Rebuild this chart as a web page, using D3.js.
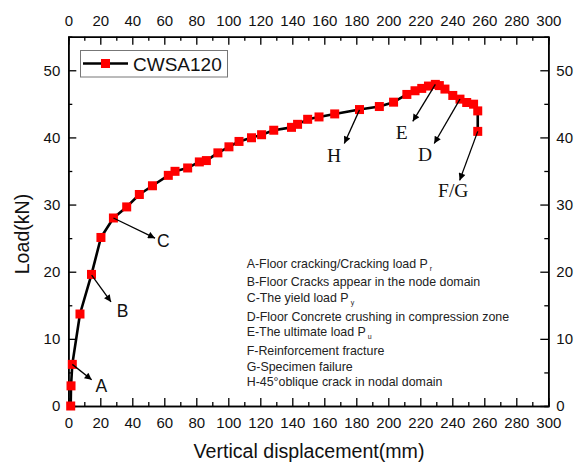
<!DOCTYPE html>
<html><head><meta charset="utf-8">
<script src="https://cdn.jsdelivr.net/npm/d3@7"></script>
<style>body{margin:0;background:#fff}svg{display:block}</style>
</head><body><svg id="c" width="581" height="465"></svg>
<script>
// ---- data ----
const seriesName = "CWSA120";
const displacement = [1.5,1.7,2.5,7.3,14.5,20.4,28.2,36.5,44.4,52.6,62.5,66.7,74.6,81.9,86.3,93.5,100.4,106.7,114.5,120.8,128.4,139.5,143.3,149.6,156.7,166.5,182.0,194.4,203.3,211.6,216.7,220.9,225.1,229.4,231.9,235.4,240.3,244.8,249.0,253.3,255.9,255.9];
const load =         [0.0,3.0,6.2,13.7,19.6,25.1,28.0,29.65,31.5,32.8,34.35,34.95,35.45,36.35,36.55,37.7,38.6,39.4,39.95,40.4,41.07,41.5,41.95,42.7,43.05,43.5,44.15,44.6,45.25,46.4,46.95,47.3,47.65,47.9,47.72,47.2,46.25,45.7,45.2,44.95,43.95,40.9];
const xTickValues = d3.range(0, 301, 20);
const xMinorValues = d3.range(10, 300, 20);
const yTickValues = [0, 10, 20, 30, 40, 50];
const yMinorValues = [5, 15, 25, 35, 45];
const xDomain = [0, 300];
const yDomain = [0, 55];
// annotation arrows (data units): from point -> arrow tip, label position
const annLabels = ["A", "B", "C", "H", "E", "D", "F/G"];
const annSerif  = [false, false, false, true, true, true, true];
const annFromX = [2.5, 14.6, 28.2, 182.0, 229.4, 244.8, 255.9];
const annFromY = [6.2, 19.5, 28.0, 44.1, 47.9, 45.7, 40.9];
const annToX   = [14.6, 26.7, 54.2, 172.5, 215.3, 228.7, 244.6];
const annToY   = [3.9, 15.5, 25.0, 39.1, 42.4, 39.1, 33.6];
const annLabX  = [20.6, 33.9, 59.4, 166.1, 208.4, 222.9, 240.6];
const annLabY  = [2.1, 13.2, 23.7, 36.4, 39.7, 36.5, 31.2];
// explanatory notes: text + subscript
const noteText = ["A-Floor cracking/Cracking load P", "B-Floor Cracks appear in the node domain", "C-The yield load P",
  "D-Floor Concrete crushing in compression zone", "E-The ultimate load P", "F-Reinforcement fracture",
  "G-Specimen failure", "H-45°oblique crack in nodal domain"];
const noteSub = ["r", "", "y", "", "u", "", "", ""];
const noteX = 111.5;
const noteY = [20.6, 17.8, 15.5, 12.7, 10.4, 7.6, 5.2, 3.0];

// ---- chart ----
const svg = d3.select("#c");
const W = 581, H = 465;
const L = 68.3, R = 548.3, T = 36.7, B = 406;
const sans = "'Liberation Sans', Arial, sans-serif";
const serif = "'Liberation Serif', 'Times New Roman', serif";
svg.append("rect").attr("width", W).attr("height", H).attr("fill", "#fff");

const x = d3.scaleLinear().domain(xDomain).range([L, R]);
const y = d3.scaleLinear().domain(yDomain).range([B, T]);

function styleAxis(g) {
  g.selectAll("path.domain").attr("stroke", "#000").attr("stroke-width", 1.6);
  g.selectAll(".tick line").attr("stroke", "#000").attr("stroke-width", 1.3);
  g.selectAll("text").attr("font-family", sans).attr("font-size", 15).attr("fill", "#111");
}
// major axes
svg.append("g").attr("transform", `translate(0,${B})`)
  .call(d3.axisBottom(x).tickValues(xTickValues).tickSizeInner(-8).tickSizeOuter(0).tickPadding(11).tickFormat(d3.format("d"))).call(styleAxis);
svg.append("g").attr("transform", `translate(0,${T})`)
  .call(d3.axisTop(x).tickValues(xTickValues).tickSizeInner(-8).tickSizeOuter(0).tickPadding(11).tickFormat(d3.format("d"))).call(styleAxis);
svg.append("g").attr("transform", `translate(${L},0)`)
  .call(d3.axisLeft(y).tickValues(yTickValues).tickSizeInner(-8).tickSizeOuter(0).tickPadding(8).tickFormat(d3.format("d"))).call(styleAxis);
svg.append("g").attr("transform", `translate(${R},0)`)
  .call(d3.axisRight(y).tickValues(yTickValues).tickSizeInner(-8).tickSizeOuter(0).tickPadding(8).tickFormat(d3.format("d"))).call(styleAxis);
// minor ticks
svg.append("g").attr("transform", `translate(0,${B})`)
  .call(d3.axisBottom(x).tickValues(xMinorValues).tickSize(-4).tickFormat("")).call(styleAxis);
svg.append("g").attr("transform", `translate(0,${T})`)
  .call(d3.axisTop(x).tickValues(xMinorValues).tickSize(-4).tickFormat("")).call(styleAxis);
svg.append("g").attr("transform", `translate(${L},0)`)
  .call(d3.axisLeft(y).tickValues(yMinorValues).tickSize(-4).tickFormat("")).call(styleAxis);
svg.append("g").attr("transform", `translate(${R},0)`)
  .call(d3.axisRight(y).tickValues(yMinorValues).tickSize(-4).tickFormat("")).call(styleAxis);

// axis titles
svg.append("text").attr("x", 309).attr("y", 458).attr("text-anchor", "middle")
  .attr("font-family", sans).attr("font-size", 19.6).attr("fill", "#111").text("Vertical displacement(mm)");
svg.append("text").attr("transform", "translate(29,234) rotate(-90)").attr("text-anchor", "middle")
  .attr("font-family", sans).attr("font-size", 19.6).attr("fill", "#111").text("Load(kN)");

// series
const pts = displacement.map((d, i) => [d, load[i]]);
svg.append("path").datum(pts)
  .attr("d", d3.line().x(d => x(d[0])).y(d => y(d[1])))
  .attr("fill", "none").attr("stroke", "#000").attr("stroke-width", 2.6).attr("stroke-linejoin", "round");
const ms = 9;
svg.append("g").selectAll("rect").data(pts).join("rect")
  .attr("x", d => x(d[0]) - ms / 2).attr("y", d => y(d[1]) - ms / 2)
  .attr("width", ms).attr("height", ms).attr("fill", "#ff0000");

// arrows
svg.append("defs").append("marker").attr("id", "ah")
  .attr("viewBox", "0 0 10 10").attr("refX", 10).attr("refY", 5)
  .attr("markerWidth", 9).attr("markerHeight", 7).attr("markerUnits", "userSpaceOnUse")
  .attr("orient", "auto")
  .append("path").attr("d", "M0,0 L10,5 L0,10 Z").attr("fill", "#000");
const ann = svg.append("g");
annLabels.forEach((lab, i) => {
  ann.append("line")
    .attr("x1", x(annFromX[i])).attr("y1", y(annFromY[i]))
    .attr("x2", x(annToX[i])).attr("y2", y(annToY[i]))
    .attr("stroke", "#000").attr("stroke-width", 1.3).attr("marker-end", "url(#ah)");
  ann.append("text").attr("x", x(annLabX[i])).attr("y", y(annLabY[i]))
    .attr("text-anchor", "middle")
    .attr("font-family", annSerif[i] ? serif : sans)
    .attr("font-size", annSerif[i] ? 19.5 : 17.5)
    .attr("fill", "#111").text(lab);
});

// notes
noteText.forEach((t, i) => {
  const tx = svg.append("text").attr("x", x(noteX)).attr("y", y(noteY[i]))
    .attr("font-family", sans).attr("font-size", 12.4).attr("fill", "#222");
  tx.append("tspan").text(t);
  if (noteSub[i]) tx.append("tspan").attr("dx", 2).attr("dy", 3).attr("font-size", 7).text(noteSub[i]);
});

// legend
const lg = svg.append("g");
lg.append("rect").attr("x", 80.5).attr("y", 50.5).attr("width", 147).attr("height", 26.5)
  .attr("fill", "#fff").attr("stroke", "#777").attr("stroke-width", 1);
lg.append("line").attr("x1", 83).attr("x2", 128).attr("y1", 63.5).attr("y2", 63.5)
  .attr("stroke", "#000").attr("stroke-width", 2.6);
lg.append("rect").attr("x", 105.5 - ms / 2).attr("y", 63.5 - ms / 2).attr("width", ms).attr("height", ms).attr("fill", "#ff0000");
lg.append("text").attr("x", 133).attr("y", 70.5).attr("font-family", sans).attr("font-size", 19)
  .attr("fill", "#111").text(seriesName);
</script></body></html>
